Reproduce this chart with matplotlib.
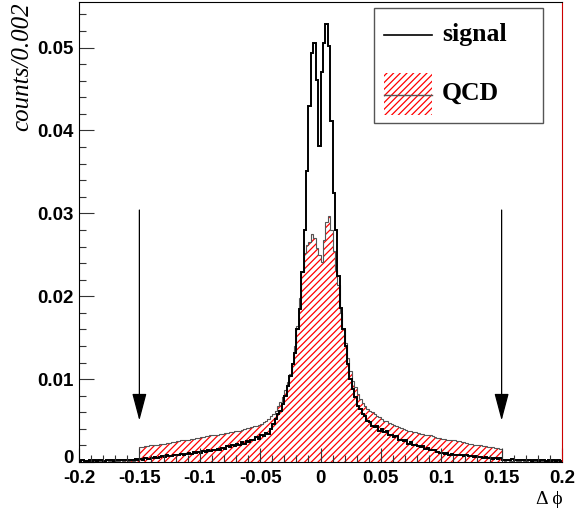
import numpy as np
import matplotlib
matplotlib.use("Agg")
import matplotlib.pyplot as plt
import matplotlib.transforms as mtransforms
from matplotlib.patches import Rectangle
from matplotlib.lines import Line2D
from matplotlib.ticker import MultipleLocator, FuncFormatter

# --- data: 200 bins of 0.002 in delta phi --- #
x_min, x_max, n_bins = -0.2, 0.2, 200

signal = [
    0.0001, 0.0002, 0.0001, 0.0001, 0.0002, 0.0001, 0.0003, 0.0001, 0.0002, 0.0002,
    0.0001, 0.0002, 0.0003, 0.0002, 0.0001, 0.0003, 0.0002, 0.0002, 0.0003, 0.0002,
    0.0003, 0.0002, 0.0003, 0.0004, 0.0003, 0.0004, 0.0003, 0.0005, 0.0004, 0.0004,
    0.0005, 0.0006, 0.0005, 0.0006, 0.0007, 0.0006, 0.0008, 0.0007, 0.0007, 0.0009,
    0.0008, 0.0009, 0.0010, 0.0008, 0.0010, 0.0011, 0.0010, 0.0012, 0.0011, 0.0012,
    0.0011, 0.0013, 0.0012, 0.0014, 0.0013, 0.0015, 0.0014, 0.0016, 0.0015, 0.0017,
    0.0016, 0.0019, 0.0018, 0.0020, 0.0019, 0.0022, 0.0021, 0.0024, 0.0022, 0.0025,
    0.0024, 0.0027, 0.0026, 0.0030, 0.0028, 0.0032, 0.0031, 0.0035, 0.0034, 0.0040,
    0.0046, 0.0052, 0.0058, 0.0062, 0.0070, 0.0080, 0.0092, 0.0104, 0.0118, 0.0132,
    0.0160, 0.0184, 0.0229, 0.0280, 0.0351, 0.0429, 0.0493, 0.0506, 0.0461, 0.0381,
    0.0470, 0.0505, 0.0529, 0.0502, 0.0411, 0.0325, 0.0280, 0.0224, 0.0186, 0.0160,
    0.0140, 0.0118, 0.0100, 0.0088, 0.0078, 0.0068, 0.0064, 0.0058, 0.0056, 0.0050,
    0.0048, 0.0044, 0.0042, 0.0043, 0.0038, 0.0040, 0.0036, 0.0037, 0.0033, 0.0032,
    0.0030, 0.0031, 0.0027, 0.0026, 0.0025, 0.0026, 0.0022, 0.0024, 0.0021, 0.0020,
    0.0019, 0.0018, 0.0019, 0.0016, 0.0017, 0.0015, 0.0014, 0.0015, 0.0012, 0.0011,
    0.0011, 0.0010, 0.0011, 0.0009, 0.0010, 0.0009, 0.0008, 0.0009, 0.0008, 0.0007,
    0.0008, 0.0007, 0.0007, 0.0006, 0.0007, 0.0006, 0.0006, 0.0005, 0.0006, 0.0005,
    0.0005, 0.0004, 0.0005, 0.0004, 0.0005, 0.0003, 0.0002, 0.0003, 0.0002, 0.0004,
    0.0002, 0.0003, 0.0002, 0.0002, 0.0003, 0.0002, 0.0003, 0.0001, 0.0002, 0.0002,
    0.0001, 0.0003, 0.0002, 0.0001, 0.0002, 0.0001, 0.0002, 0.0001, 0.0002, 0.0001,
]

qcd = [
    0.0001, 0.0000, 0.0001, 0.0001, 0.0000, 0.0001, 0.0001, 0.0002, 0.0001, 0.0001,
    0.0001, 0.0002, 0.0001, 0.0001, 0.0002, 0.0001, 0.0001, 0.0002, 0.0001, 0.0002,
    0.0001, 0.0002, 0.0001, 0.0002, 0.0002, 0.0018, 0.0018, 0.0019, 0.0019, 0.0020,
    0.0020, 0.0021, 0.0021, 0.0022, 0.0022, 0.0022, 0.0023, 0.0023, 0.0024, 0.0024,
    0.0025, 0.0025, 0.0026, 0.0026, 0.0027, 0.0027, 0.0028, 0.0028, 0.0029, 0.0029,
    0.0030, 0.0030, 0.0031, 0.0031, 0.0032, 0.0032, 0.0033, 0.0033, 0.0034, 0.0034,
    0.0035, 0.0035, 0.0036, 0.0036, 0.0037, 0.0038, 0.0038, 0.0039, 0.0040, 0.0041,
    0.0041, 0.0042, 0.0043, 0.0044, 0.0045, 0.0046, 0.0048, 0.0050, 0.0052, 0.0055,
    0.0058, 0.0062, 0.0067, 0.0072, 0.0079, 0.0087, 0.0096, 0.0106, 0.0120, 0.0140,
    0.0164, 0.0198, 0.0229, 0.0252, 0.0262, 0.0266, 0.0275, 0.0270, 0.0258, 0.0250,
    0.0241, 0.0268, 0.0290, 0.0297, 0.0280, 0.0255, 0.0232, 0.0214, 0.0180, 0.0160,
    0.0144, 0.0126, 0.0110, 0.0098, 0.0090, 0.0082, 0.0076, 0.0071, 0.0067, 0.0064,
    0.0062, 0.0060, 0.0058, 0.0056, 0.0054, 0.0052, 0.0050, 0.0049, 0.0047, 0.0046,
    0.0045, 0.0043, 0.0042, 0.0041, 0.0040, 0.0039, 0.0038, 0.0037, 0.0036, 0.0036,
    0.0035, 0.0034, 0.0034, 0.0033, 0.0033, 0.0032, 0.0031, 0.0030, 0.0029, 0.0029,
    0.0028, 0.0028, 0.0027, 0.0027, 0.0026, 0.0026, 0.0025, 0.0025, 0.0024, 0.0024,
    0.0023, 0.0022, 0.0022, 0.0021, 0.0021, 0.0020, 0.0020, 0.0019, 0.0019, 0.0018,
    0.0018, 0.0018, 0.0017, 0.0017, 0.0016, 0.0002, 0.0001, 0.0002, 0.0001, 0.0001,
    0.0002, 0.0001, 0.0001, 0.0002, 0.0001, 0.0001, 0.0002, 0.0001, 0.0001, 0.0001,
    0.0002, 0.0001, 0.0001, 0.0001, 0.0002, 0.0001, 0.0001, 0.0001, 0.0001, 0.0001,
]

cut_positions = [-0.15, 0.15]
arrow_top, arrow_tip = 0.0304, 0.0050

x_ticks = [-0.2, -0.15, -0.1, -0.05, 0, 0.05, 0.1, 0.15, 0.2]
y_ticks = [0, 0.01, 0.02, 0.03, 0.04, 0.05]

assert len(signal) == n_bins and len(qcd) == n_bins
edges = np.linspace(x_min, x_max, n_bins + 1)

# --- figure --- #
W, H = 586, 512
plt.rcParams["axes.unicode_minus"] = False
plt.rcParams["hatch.linewidth"] = 0.9
hatch = "/////"

fig = plt.figure(figsize=(W / 100, H / 100), dpi=100)
ax = fig.add_axes([79 / W, 50 / H, 483 / W, 460 / H])

ax.stairs(qcd, edges, fill=True, facecolor="none", edgecolor="red",
          hatch=hatch, linewidth=0)
ax.stairs(qcd, edges, color="#555555", lw=0.8)
ax.stairs(signal, edges, color="black", lw=1.4)

for xc in cut_positions:
    ax.annotate("", xy=(xc, arrow_tip), xytext=(xc, arrow_top),
                arrowprops=dict(arrowstyle="-|>,head_length=1.7,head_width=0.45",
                                color="black", lw=0.9, shrinkA=0, shrinkB=0))

ax.set_xlim(x_min, x_max)
ax.set_ylim(0, 0.0555)
ax.set_xticks(x_ticks)
ax.set_yticks(y_ticks)
ax.xaxis.set_minor_locator(MultipleLocator(0.01))
ax.yaxis.set_minor_locator(MultipleLocator(0.002))
ax.xaxis.set_major_formatter(FuncFormatter(lambda v, p: f"{round(v, 3):g}"))
ax.yaxis.set_major_formatter(FuncFormatter(lambda v, p: f"{round(v, 3):g}"))

ax.tick_params(axis="both", which="both", direction="in", width=0.8, color="#333333")
ax.tick_params(axis="y", which="major", length=10.8, pad=4)
ax.tick_params(axis="y", which="minor", length=5.2)
ax.tick_params(axis="x", which="major", length=10, pad=5.5)
ax.tick_params(axis="x", which="minor", length=5)
for lab in ax.get_xticklabels() + ax.get_yticklabels():
    lab.set_fontfamily("Liberation Sans")
    lab.set_fontweight("bold")
    lab.set_fontsize(13.5)

# the "0" on the y axis sits a little higher, as in ROOT
zero_lab = ax.yaxis.get_major_ticks()[0].label1
zero_lab.set_transform(zero_lab.get_transform()
                       + mtransforms.ScaledTranslation(0, 4 / 72, fig.dpi_scale_trans))

for s in ax.spines.values():
    s.set_linewidth(0.8)
ax.spines["right"].set_color("#cc0000")

fig.text(22 / W, 1 - 2 / H, "counts/0.002", rotation=90, ha="center", va="top",
         family="Liberation Serif", style="italic", fontsize=18)
fig.text(563 / W, 1 - 500 / H, "\u0394 \u03d5", ha="right", va="center",
         family=["Liberation Serif", "DejaVu Serif"], fontsize=14)


# --- legend box, drawn in figure pixels --- #
def fx(x):
    return x / W


def fy(y):
    return 1 - y / H


fig.add_artist(Rectangle((fx(374), fy(123)), fx(543) - fx(374), fy(8) - fy(123),
                         transform=fig.transFigure, facecolor="white",
                         edgecolor="#555555", lw=1.0))
fig.add_artist(Line2D([fx(384), fx(432)], [fy(35), fy(35)],
                      transform=fig.transFigure, color="black", lw=1.2))
fig.add_artist(Rectangle((fx(384), fy(115)), fx(432) - fx(384), fy(73) - fy(115),
                         transform=fig.transFigure, facecolor="none",
                         edgecolor="red", hatch=hatch, lw=0))
fig.add_artist(Line2D([fx(384), fx(432)], [fy(95), fy(95)],
                      transform=fig.transFigure, color="#555555", lw=1.0))
fig.text(fx(442), fy(34), "signal", ha="left", va="center",
         family="Liberation Serif", weight="bold", fontsize=18.5)
fig.text(fx(442), fy(93), "QCD", ha="left", va="center",
         family="Liberation Serif", weight="bold", fontsize=18.5)

fig.savefig("out.png", dpi=100)
